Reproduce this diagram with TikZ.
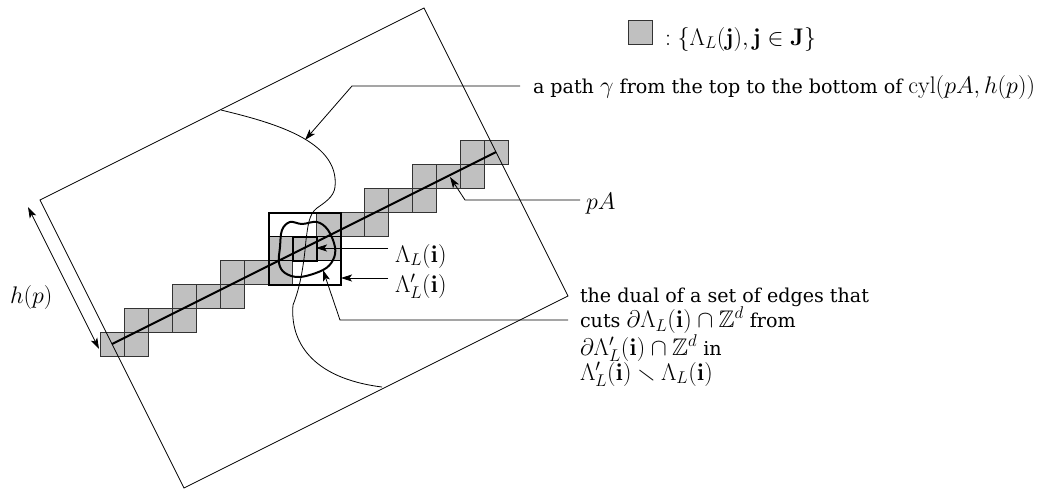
\RequirePackage{fix-cm}
\documentclass[tikz,border=0pt]{standalone}
\usepackage{amsmath,amssymb}
\usepackage[no-math]{fontspec}
\setmainfont{DejaVu Serif}
\DeclareMathSizes{19.1}{24}{17}{12}
\usetikzlibrary{arrows.meta}
\tikzset{
  x=1pt,y=-1pt,
  cell/.style={draw=black!80,fill=cellgray,line width=0.8pt,minimum size=24pt,inner sep=0pt,outer sep=0pt,anchor=north west},
  thin line/.style={line width=0.8pt},
  heavy/.style={line width=2pt},
  pointer/.style={line width=0.8pt,-{Stealth[length=11pt,width=7pt,inset=2.5pt]}},
  lab/.style={anchor=base west,inner sep=0pt,outer sep=0pt,font=\fontsize{19.1pt}{25pt}\selectfont},
  mlab/.style={lab},
}
\definecolor{cellgray}{HTML}{C0C0C0}
\begin{document}
\begin{tikzpicture}
\useasboundingbox (0,0) rectangle (1038,491);
% cells
\foreach \n/\cx/\cy in {a/100/332,b/124/332,c/124/308,d/148/308,e/172/308,f/172/284,g/196/284,h/220/284,i/220/260,j/244/260,k/268/260,l/268/236,m/292/236,n/316/236,o/316/212,p/340/212,q/364/212,r/364/188,s/388/188,t/412/188,u/412/164,v/436/164,w/460/164,x/460/140,y/484/140}
  \node[cell] (cell\n) at (\cx,\cy) {};
% plain grid lines inside the big box
\coordinate (g1) at (268,236); \coordinate (g2) at (340,236);
\coordinate (g3) at (268,260); \coordinate (g4) at (340,260);
\draw[line width=0.8pt] (g1) -- (g2) (g3) -- (g4);
% cylinder
\coordinate (ra) at (40,200); \coordinate (rb) at (424,8);
\coordinate (rc) at (568,296); \coordinate (rd) at (184,488);
\draw[thin line] (ra) -- (rb) -- (rc) -- (rd) -- cycle;
% segment pA
\coordinate (sa) at (112,344); \coordinate (sb) at (496,152);
\draw[heavy] (sa) -- (sb);
% path gamma
\draw[thin line] (221,110) .. controls (270,122) and (340,140) .. (335,187)
  .. controls (334,197) and (324,203) .. (317,208)
  .. controls (309,214) and (308,225) .. (306,240)
  .. controls (304,262) and (301,285) .. (293,305)
  .. controls (290,340) and (310,378) .. (382,387);
% boxes
\node[draw,heavy,minimum size=72pt,inner sep=0pt,anchor=north west] (outerbox) at (268,212) {};
\node[draw,heavy,minimum size=24pt,inner sep=0pt,anchor=north west] (innerbox) at (292,236) {};
% blob
\draw[heavy,line join=round] plot[smooth cycle,tension=0.6] coordinates {(280,247) (282,230) (290,222) (302,224) (317,222) (328,230) (335,247) (333,260) (323,270) (300,277) (285,273) (279,263)};
% legend
\node[cell] (legendbox) at (628,20) {};
\node[mlab] (legendtext) at (665,45) {$:\{\Lambda_L(\mathbf{j}),\mathbf{j}\in\mathbf{J}\}$};
% labels
\node[lab] (gammalab) at (533,93) {a path $\gamma$ from the top to the bottom of $\mathrm{cyl}(pA,h(p))$};
\node[mlab] (pAlab) at (586,209) {$pA$};
\node[mlab] (hlab) at (10,303) {$h(p)$};
\node[mlab] (Llab) at (395,262) {$\Lambda_L(\mathbf{i})$};
\node[mlab] (Lplab) at (395,292) {$\Lambda'_L(\mathbf{i})$};
\node[lab,align=left,anchor=north west] (dual) at (580,288) {\lineskiplimit=-20pt the dual of a set of edges that\\
cuts $\partial\Lambda_L(\mathbf{i})\cap\mathbb{Z}^d$ from\\
$\partial\Lambda'_L(\mathbf{i})\cap\mathbb{Z}^d$ in\\
$\Lambda'_L(\mathbf{i})\smallsetminus\Lambda_L(\mathbf{i})$};
% connectors
\coordinate (g0) at (520,86); \coordinate (g1c) at (352,86); \coordinate (g2c) at (305,140);
\draw[pointer] (g0) -- (g1c) -- (g2c);
\coordinate (p0) at (580,200); \coordinate (p1) at (465,200); \coordinate (p2) at (450,177);
\draw[pointer] (p0) -- (p1) -- (p2);
\coordinate (l0) at (388,248); \coordinate (l1) at (316,248);
\draw[pointer] (l0) -- (l1);
\coordinate (lp0) at (388,278); \coordinate (lp1) at (341,278);
\draw[pointer] (lp0) -- (lp1);
\coordinate (d0) at (568,320); \coordinate (d1) at (340,320); \coordinate (d2) at (323,270);
\draw[pointer] (d0) -- (d1) -- (d2);
\coordinate (h0) at (28,207); \coordinate (h1) at (99,349);
\draw[thin line,{Stealth[length=11pt,width=7pt,inset=2.5pt]}-{Stealth[length=11pt,width=7pt,inset=2.5pt]}] (h0) -- (h1);
\end{tikzpicture}
\end{document}
